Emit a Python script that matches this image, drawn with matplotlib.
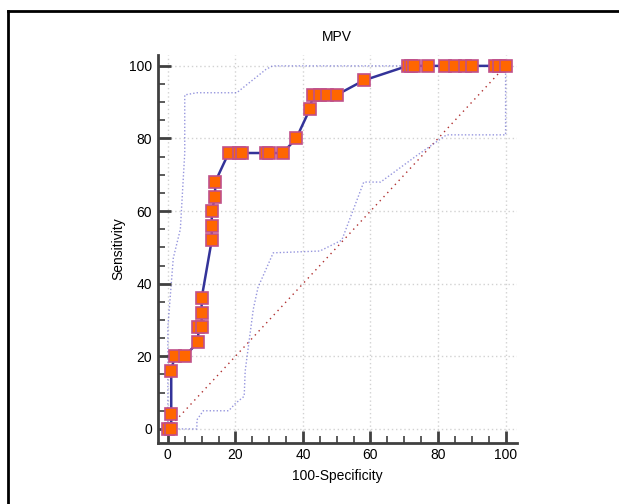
import matplotlib
matplotlib.use("Agg")
import matplotlib.pyplot as plt
from matplotlib.lines import Line2D
from matplotlib.ticker import MultipleLocator

# ROC points (100-Specificity, Sensitivity)
roc_x = [0, 1, 1, 1, 2, 5, 9, 9, 10, 10, 10, 13, 13, 13, 14, 14, 18, 21, 22, 29, 30, 34,
         38, 42, 43, 45, 47, 50, 58, 71, 72, 73, 77, 82, 85, 88, 90, 97, 98, 100]
roc_y = [0, 0, 4, 16, 20, 20, 24, 28, 28, 32, 36, 52, 56, 60, 64, 68, 76, 76, 76, 76, 76, 76,
         80, 88, 92, 92, 92, 92, 96, 100, 100, 100, 100, 100, 100, 100, 100, 100, 100, 100]

# confidence bounds (approximate)
upper_x = [0, 0, 1.6, 3.7, 5, 5, 8.6, 20.4, 29, 31, 100]
upper_y = [0, 28, 47, 55, 76, 92, 92.6, 92.6, 99, 100, 100]
lower_x = [0, 8.6, 8.6, 10.5, 18, 20, 22.6, 22.9, 25.3, 26.7, 31.2, 45, 51.5, 58, 63, 74,
           82.5, 100, 100]
lower_y = [0, 0, 2.5, 5, 5, 7, 9, 16, 33, 39, 48.5, 49, 52, 68, 68, 75.5, 81, 81, 100]

ticks = [0, 20, 40, 60, 80, 100]

plt.rcParams["font.family"] = ["Liberation Sans", "DejaVu Sans"]

fig = plt.figure(figsize=(6.19, 5.04), dpi=100)
ax = fig.add_axes([0.2548, 0.1216, 0.58, 0.7693])

for t in ticks:
    ax.axhline(t, color="#d2d2d2", lw=1, ls=(0, (1, 2)), zorder=0)
    ax.axvline(t, color="#d2d2d2", lw=1, ls=(0, (1, 2)), zorder=0)

ax.plot([0, 100], [0, 100], color="#b03030", lw=1, ls=(0, (1, 3)), zorder=1)
ax.plot(upper_x, upper_y, color="#6a6ad0", lw=1, ls=(0, (1, 1.5)), alpha=0.7, zorder=1)
ax.plot(lower_x, lower_y, color="#6a6ad0", lw=1, ls=(0, (1, 1.5)), alpha=0.7, zorder=1)

ax.plot(roc_x, roc_y, color="#333399", lw=1.8, marker="s", ms=8,
        mfc="#ff6600", mec="#c0508a", mew=1.2, zorder=3)

ax.set_xlim(-3, 103.3)
ax.set_ylim(-3.8, 103)
ax.set_xticks(ticks)
ax.set_yticks(ticks)
ax.xaxis.set_minor_locator(MultipleLocator(5))
ax.yaxis.set_minor_locator(MultipleLocator(5))
ax.tick_params(which="major", direction="in", length=9, width=2, color="#404040",
               labelsize=10, pad=4)
ax.tick_params(which="minor", direction="in", length=5, width=1.2, color="#404040")

for side in ("top", "right"):
    ax.spines[side].set_visible(False)
for side in ("left", "bottom"):
    ax.spines[side].set_color("#404040")
    ax.spines[side].set_linewidth(2)

ax.set_title("MPV", fontsize=10, pad=10)
ax.set_xlabel("100-Specificity", fontsize=10, labelpad=5)
ax.set_ylabel("Sensitivity", fontsize=10, labelpad=3)

# outer frame
fig.add_artist(Line2D([8 / 619, 1], [1 - 11 / 504, 1 - 11 / 504], color="black", lw=2,
                      transform=fig.transFigure))
fig.add_artist(Line2D([8 / 619, 8 / 619], [0, 1 - 11 / 504], color="black", lw=2,
                      transform=fig.transFigure))

fig.savefig("out.png", dpi=100)
